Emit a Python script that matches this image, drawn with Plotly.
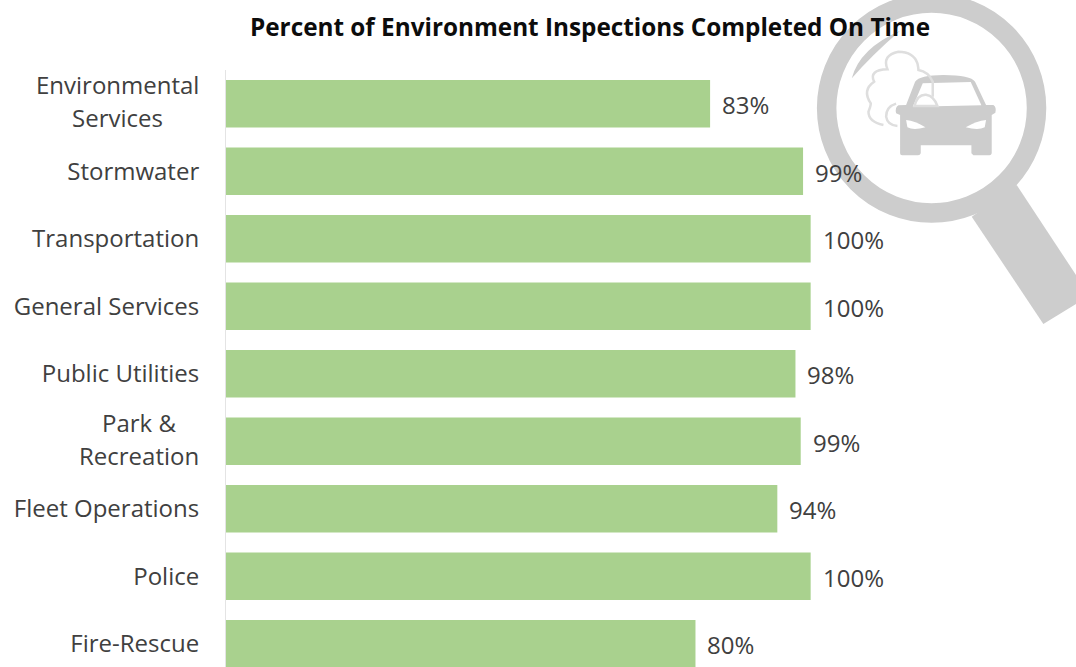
import plotly.graph_objects as go

categories = ["Environmental Services", "Stormwater", "Transportation", "General Services",
              "Public Utilities", "Park & Recreation", "Fleet Operations", "Police", "Fire-Rescue"]
tick_text = ["", "Stormwater", "Transportation", "General Services",
             "Public Utilities", "", "Fleet Operations", "Police", "Fire-Rescue"]
values = [82.8, 98.7, 100, 100, 97.4, 98.3, 94.3, 100, 80.3]
labels = ["83%", "99%", "100%", "100%", "98%", "99%", "94%", "100%", "80%"]
title = "Percent of Environment Inspections Completed On Time"

W, H = 1076, 667
L, T = 225.5, 70
FONT = "Open Sans"
GREY = "#cdcdcd"
PALE = "#dedede"
INK = "#404040"

def fx(x): return (x - L) / (W - L)
def fy(y): return 1 - (y - T) / (H - T)
def zx(x): return fx(800 + x / 3)
def zy(y): return fy(y / 3)

def path(cmds, close=True):
    out = []
    for c in cmds:
        op, pts = c[0], c[1:]
        out.append(op + " ".join(f"{zx(pts[i]):.5f},{zy(pts[i+1]):.5f}" for i in range(0, len(pts), 2)))
    return " ".join(out) + (" Z" if close else "")

car = path([("M", 345, 245), ("Q", 358, 226, 430, 225), ("Q", 512, 226, 525, 245), ("L", 558, 315),
            ("L", 580, 315), ("Q", 590, 322, 586, 338), ("L", 575, 345), ("L", 575, 460), ("Q", 574, 466, 568, 466),
            ("L", 520, 466), ("L", 514, 460), ("L", 514, 436), ("L", 362, 436), ("L", 362, 460), ("Q", 360, 466, 354, 466),
            ("L", 306, 466), ("Q", 300, 466, 300, 460), ("L", 300, 345), ("L", 288, 340), ("Q", 284, 322, 295, 316), ("L", 318, 315)])
windshield = path([("M", 368, 250), ("L", 512, 246), ("L", 544, 316), ("L", 338, 320)])
lamp_l = path([("M", 318, 360), ("Q", 345, 362, 376, 382), ("Q", 340, 392, 322, 382)])
lamp_r = path([("M", 558, 360), ("Q", 530, 362, 497, 382), ("Q", 535, 392, 554, 382)])
handle = path([("M", 650, 555), ("L", 828, 825), ("L", 828, 912), ("L", 730, 972), ("L", 515, 650)])
glint = path([("M", 155, 235), ("Q", 178, 145, 300, 92), ("Q", 212, 168, 155, 235)])
cloud = path([("M", 250, 375), ("Q", 205, 365, 205, 335), ("Q", 212, 318, 212, 310), ("Q", 185, 270, 222, 245),
              ("Q", 205, 210, 262, 208), ("Q", 245, 165, 295, 155), ("Q", 340, 155, 352, 190), ("Q", 355, 205, 355, 210),
              ("Q", 385, 215, 398, 245), ("L", 398, 290)], close=False)
hump = path([("M", 343, 318), ("Q", 352, 282, 378, 284), ("Q", 402, 288, 412, 318)])
curl = path([("M", 288, 311), ("Q", 258, 320, 258, 350), ("Q", 262, 376, 292, 378)], close=False)

cx0, cx1 = fx(931.5 - 105), fx(931.5 + 105)
cy0, cy1 = fy(108 + 105), fy(108 - 105)

paper = dict(type="path", xref="paper", yref="paper", layer="below")
shapes = [
    dict(type="circle", xref="paper", yref="paper", x0=cx0, x1=cx1, y0=cy0, y1=cy1,
         line=dict(color=GREY, width=19.5), fillcolor="rgba(0,0,0,0)", layer="below"),
    dict(paper, path=handle, fillcolor=GREY, line_width=0),
    dict(paper, path=glint, fillcolor=GREY, line_width=0),
    dict(paper, path=car, fillcolor=GREY, line_width=0),
    dict(paper, path=windshield, fillcolor="white", line_width=0),
    dict(paper, path=lamp_l, fillcolor="white", line_width=0),
    dict(paper, path=lamp_r, fillcolor="white", line_width=0),
    dict(paper, path=cloud, line=dict(color=PALE, width=2.5)),
    dict(paper, path=hump, fillcolor="white", line=dict(color=PALE, width=2.5)),
    dict(paper, path=curl, line=dict(color=PALE, width=2.5)),
]

fig = go.Figure(go.Bar(y=categories, x=values, orientation="h", width=0.705,
                       marker=dict(color="#a9d18e", line_width=0), hoverinfo="skip"))

annotations = [dict(x=v, y=c, text=t, xref="x", yref="y", xanchor="left", yanchor="middle", showarrow=False,
                    xshift=10, yshift=-1, font=dict(family=FONT, size=24, color=INK))
               for v, c, t in zip(values, categories, labels)]
annotations.append(dict(x=(589.5 - L) / (W - L), y=fy(26), xref="paper", yref="paper", text=f"<b>{title}</b>",
                        xanchor="center", yanchor="middle", showarrow=False,
                        font=dict(family=FONT, size=24.3, color="#0c0c0c")))
# wrapped category labels: each line centred on the label block, as in the reference
for cat, text, cx, ys in [("Environmental Services", "Environmental", 116.5, 19.5), ("Environmental Services", "Services", 116.5, -14),
                          ("Park & Recreation", "Park &", 138.5, 19), ("Park & Recreation", "Recreation", 138.5, -14.5)]:
    annotations.append(dict(x=(cx - L) / (W - L), y=cat, xref="paper", yref="y", text=text, xanchor="center",
                            yanchor="middle", yshift=ys, showarrow=False, font=dict(family=FONT, size=24, color=INK)))

fig.update_layout(
    width=W, height=H, autosize=False,
    margin=dict(l=L, r=0, t=T, b=0, pad=0),
    paper_bgcolor="white", plot_bgcolor="rgba(0,0,0,0)",
    showlegend=False, bargap=0.295,
    shapes=shapes, annotations=annotations,
    xaxis=dict(range=[0, (W - L) / 5.85], visible=False, fixedrange=True),
    yaxis=dict(type="category", categoryorder="array", categoryarray=categories,
               tickmode="array", tickvals=categories, ticktext=tick_text,
               range=[8.344, -0.5], showgrid=False, zeroline=False, showline=True, linecolor="#e4e4e4", linewidth=1,
               ticks="", ticklabelstandoff=21,
               tickfont=dict(family=FONT, size=24, color=INK), fixedrange=True),
)
fig.write_html("out.html", config=dict(displayModeBar=False),
               post_script="document.body.style.margin='0';document.documentElement.style.overflow='hidden';")
